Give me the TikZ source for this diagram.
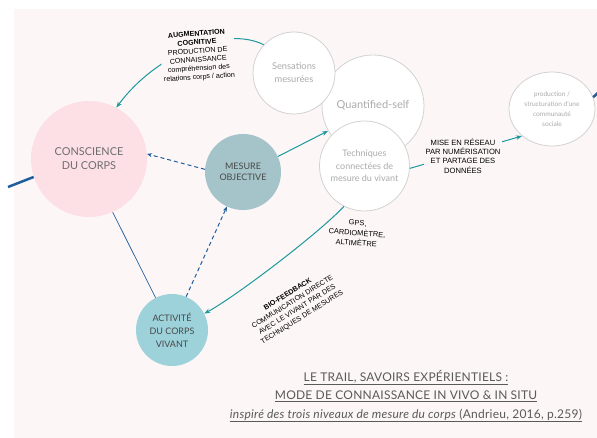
\documentclass[tikz,border=0pt]{standalone}
\usepackage{fontspec}
\setmainfont{Lato}
\newfontfamily\arialf{Liberation Sans}
\newfontfamily\titlef[LetterSpace=2]{Lato}
\usetikzlibrary{arrows.meta,shapes.geometric}
\definecolor{bgc}{HTML}{FDF6F7}
\definecolor{pinkc}{HTML}{FCE0E6}
\definecolor{mesc}{HTML}{A4C4CA}
\definecolor{actc}{HTML}{9DD2DB}
\definecolor{tealc}{HTML}{1B9A9E}
\definecolor{bluec}{HTML}{1F5E9E}
\definecolor{ringc}{HTML}{D2D2D2}
\definecolor{lgray}{HTML}{ABABAB}
\definecolor{dgray}{HTML}{484848}
\definecolor{mgray}{HTML}{6E6E6E}
\definecolor{tgray}{HTML}{5A5A5A}
\tikzset{
  bubble/.style={circle, inner sep=0pt, align=center},
  whitebubble/.style={bubble, fill=white, draw=ringc, line width=0.8pt, text=lgray},
  lbl/.style={align=center, inner sep=1.5pt, fill=bgc, text=black},
  tealarrow/.style={draw=tealc, line width=1pt, -{Stealth[length=6pt,width=4.5pt]}},
  bluedash/.style={draw=bluec, line width=1pt, dash pattern=on 4pt off 3pt, -{Stealth[length=5pt,width=4pt]}},
}
\begin{document}
\begin{tikzpicture}[x=1pt,y=-1pt]
\useasboundingbox (0,0) rectangle (597,438);
\fill[bgc] (14,9) rectangle (597,438);
% nodes
\node[bubble, fill=pinkc, minimum size=116pt, text=mgray, font=\fontsize{10.9}{14}\selectfont] (cc) at (89,159) {CONSCIENCE\\DU CORPS};
\node[bubble, fill=mesc, minimum size=76pt, text=dgray, font=\fontsize{9}{11.5}\selectfont] (mo) at (243,172) {MESURE\\OBJECTIVE};
\node[bubble, fill=actc, minimum size=72pt, text=dgray, font=\fontsize{9}{13}\selectfont] (act) at (172,330) {ACTIVITÉ\\DU CORPS\\VIVANT};
\node[whitebubble, minimum size=102pt, font=\fontsize{11}{13}\selectfont] (qs) at (373,106) {\raisebox{3pt}{Quantified-self}};
\node[whitebubble, minimum size=82pt, font=\fontsize{9.3}{13}\selectfont] (sm) at (294,73) {Sensations\\mesurées};
\node[whitebubble, minimum size=90pt, font=\fontsize{9}{12.5}\selectfont] (tech) at (364.5,166) {Techniques\\connectées de\\mesure du vivant};
\node[ellipse, draw=ringc, fill=white, line width=0.8pt, minimum width=86pt, minimum height=74pt, inner sep=0pt, align=center, text=lgray, font=\fontsize{6.6}{10}\selectfont] (prod) at (552,109) {production /\\structuration d'une\\communauté\\sociale};
% free ends
\coordinate (lend) at (8,187);
\coordinate (rend) at (600,91);
% connectors
\draw[bluec, line width=2.5pt] (lend) -- (cc.198);
\draw[bluec, line width=2.5pt] (prod.16) -- (rend);
\draw[bluec, line width=0.7pt] (cc.294) -- (act.117);
\draw[bluedash] (mo.176) -- (cc.5);
\draw[bluedash] (act.67) -- (mo.245);
\draw[tealarrow] (mo.24) -- (qs.209);
\draw[tealarrow] (sm.137) .. controls (225,25) and (155,55) .. (cc.62);
\draw[tealarrow] (tech.243) .. controls (318,234) and (235,297) .. (act.27);
\draw[tealarrow] (tech.357) -- (prod.222);
% labels
\node[lbl, rotate=4, font=\arialf\fontsize{7.1}{8.7}\selectfont] (laug) at (198,56) {\textbf{AUGMENTATION}\\\textbf{COGNITIVE}\\PRODUCTION DE\\CONNAISSANCE\\compréhension des\\relations corps / action};
\node[lbl, font=\arialf\fontsize{7.6}{9.4}\selectfont] (lmise) at (463,156) {MISE EN RÉSEAU\\PAR NUMÉRISATION\\ET PARTAGE DES\\DONNÉES};
\node[lbl, fill=none, rotate=-4, font=\arialf\fontsize{7.4}{10}\selectfont] (lgps) at (357,233) {GPS,\\CARDIOMÈTRE,\\ALTIMÈTRE};
\node[lbl, fill=none, rotate=32, font=\arialf\fontsize{7.1}{9}\selectfont] (lbio) at (295,306) {\textbf{BIO-FEEDBACK}\\COMMUNICATION DIRECTE\\AVEC LE VIVANT PAR DES\\TECHNIQUES DE MESURES};
% title
\node[align=center, text=tgray, font=\titlef\fontsize{12}{18.5}\selectfont] (title) at (406,396) {\underline{LE TRAIL, SAVOIRS EXPÉRIENTIELS :}\\\underline{MODE DE CONNAISSANCE IN VIVO \& IN SITU}\\\underline{\textit{inspiré des trois niveaux de mesure du corps}}\underline{ (Andrieu, 2016, p.259)}};
\end{tikzpicture}
\end{document}
